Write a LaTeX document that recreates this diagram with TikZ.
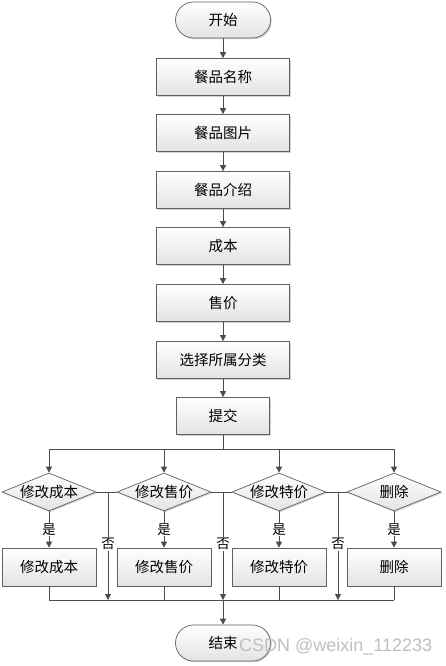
\documentclass[tikz,border=0pt]{standalone}
\usepackage{fontspec}
\newfontfamily\cjk{Noto Sans CJK SC}
\newfontfamily\wm{Liberation Sans}
\usetikzlibrary{shapes.geometric,arrows.meta,shadows}
\tikzset{
  base/.style={draw=gray!75!black, line width=0.7pt, top color=white, bottom color=gray!22,
    font=\cjk\fontsize{14.5}{16}\selectfont, inner sep=0pt,
    drop shadow={shadow xshift=1.2pt, shadow yshift=-1.2pt, fill=gray!45, opacity=0.8}},
  box/.style={base, rectangle, minimum width=133pt, minimum height=37pt},
  ybox/.style={base, rectangle, minimum width=94pt, minimum height=38pt},
  term/.style={base, rectangle, rounded corners=18pt, minimum width=95pt, minimum height=36pt},
  dec/.style={base, diamond, minimum width=94pt, minimum height=38pt},
  conn/.style={draw=gray!60!black, line width=0.8pt},
  arr/.style={conn, -{Triangle[length=6pt,width=6pt]}},
  lab/.style={fill=white, inner sep=1pt, font=\cjk\fontsize{13.5}{15}\selectfont}
}
\begin{document}
\begin{tikzpicture}[x=1pt,y=-1pt]
\useasboundingbox[fill=white] (0,0) rectangle (446,666);
\node[term] (start) at (223,20) {开始};
\node[box] (b1) at (223,77) {餐品名称};
\node[box] (b2) at (223,133) {餐品图片};
\node[box] (b3) at (223,190) {餐品介绍};
\node[box] (b4) at (223,246) {成本};
\node[box] (b5) at (223,303) {售价};
\node[box] (b6) at (223,360) {选择所属分类};
\node[box, minimum width=93pt] (sub) at (223,416) {提交};
\node[dec] (d1) at (49,492) {\makebox[0pt]{修改成本}};
\node[dec] (d2) at (164,492) {\makebox[0pt]{修改售价}};
\node[dec] (d3) at (279,492) {\makebox[0pt]{修改特价}};
\node[dec] (d4) at (394,492) {\makebox[0pt]{删除}};
\node[ybox] (y1) at (49,567) {修改成本};
\node[ybox] (y2) at (164,567) {修改售价};
\node[ybox] (y3) at (279,567) {修改特价};
\node[ybox] (y4) at (394,567) {删除};
\node[term] (end) at (223,643) {结束};
\node[anchor=west, font=\wm\fontsize{18}{20}\selectfont, text=gray!50, inner sep=0pt] (wm) at (239,647) {CSDN @weixin\_112233};

\draw[arr] (start) -- (b1);
\draw[arr] (b1) -- (b2);
\draw[arr] (b2) -- (b3);
\draw[arr] (b3) -- (b4);
\draw[arr] (b4) -- (b5);
\draw[arr] (b5) -- (b6);
\draw[arr] (b6) -- (sub);
\coordinate (br) at (223,449);
\coordinate (bot) at (223,600);
\draw[conn] (sub) -- (br);
\draw[conn] (d1.north |- br) -- (d4.north |- br);
\foreach \d in {d1,d2,d3,d4} \draw[arr] (\d.north |- br) -- (\d);
\draw[arr] (d1) -- node[lab] {是} (y1);
\draw[arr] (d2) -- node[lab] {是} (y2);
\draw[arr] (d3) -- node[lab] {是} (y3);
\draw[arr] (d4) -- node[lab] {是} (y4);
\draw[conn] (d1.east) -- (d2.west);
\draw[conn] (d2.east) -- (d3.west);
\draw[conn] (d3.east) -- (d4.west);
\coordinate (n1) at (108,492);
\coordinate (n2) at (223,492);
\coordinate (n3) at (338,492);
\foreach \n in {n1,n2,n3} \draw[arr] (\n) -- node[lab, pos=0.48] {否} (\n |- bot);
\foreach \y in {y1,y2,y3,y4} \draw[conn] (\y.south) -- (\y.south |- bot);
\draw[conn] (y1.south |- bot) -- (y4.south |- bot);
\draw[arr] (bot) -- (end);
\end{tikzpicture}
\end{document}
